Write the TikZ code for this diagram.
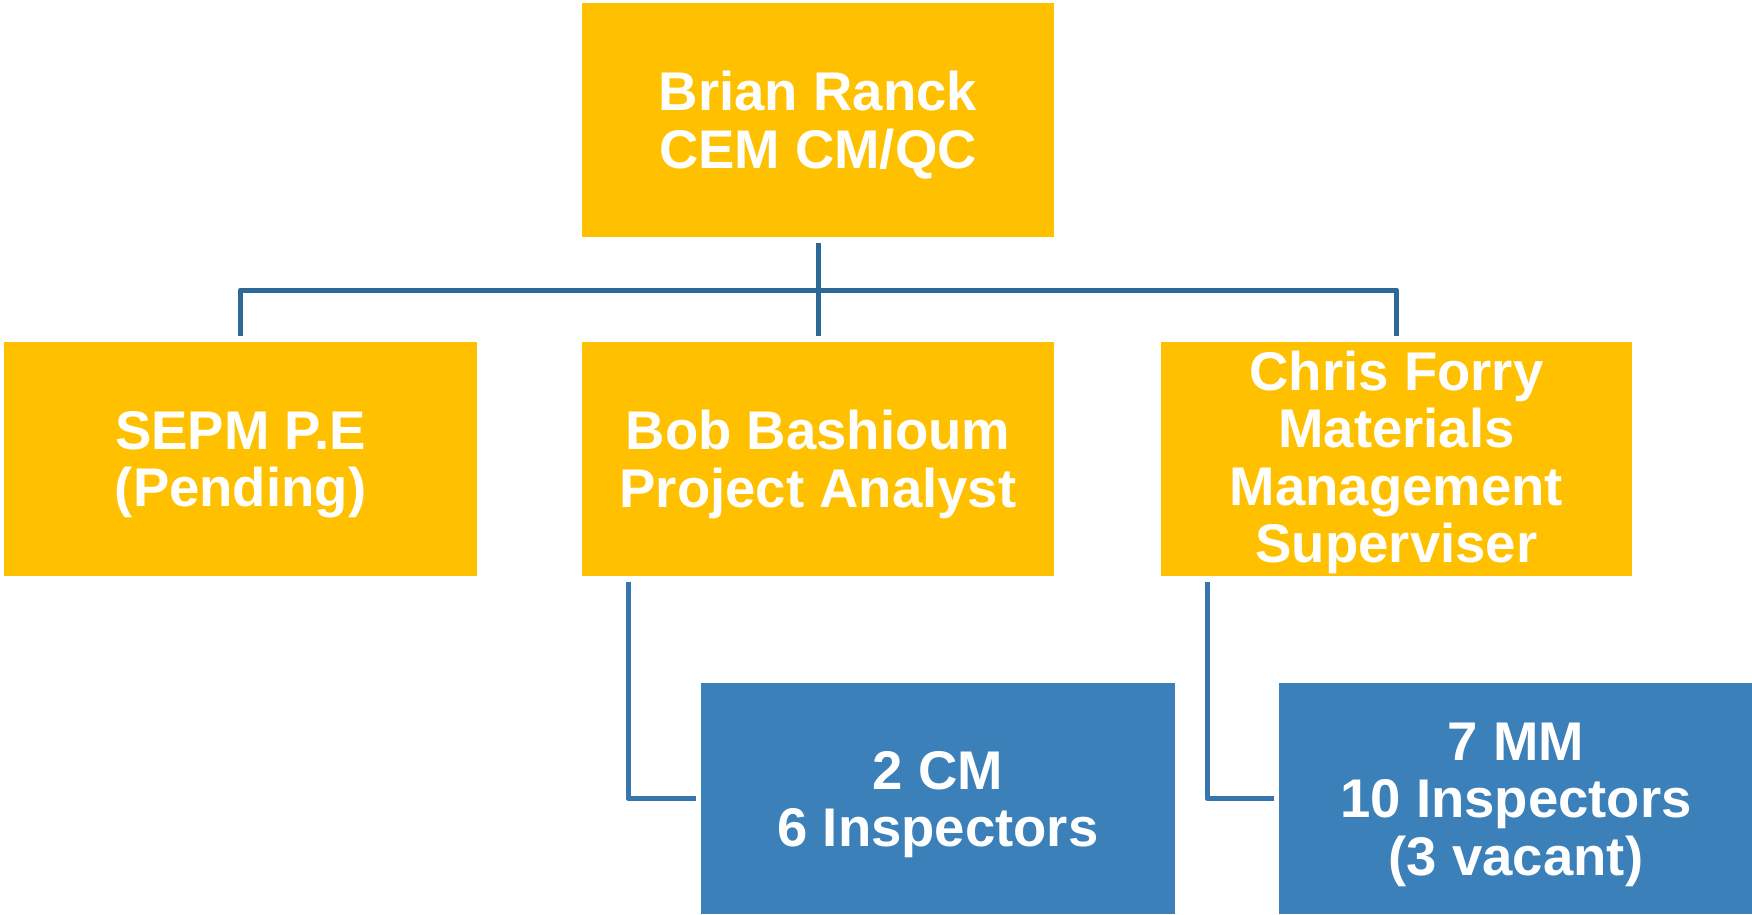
\documentclass[tikz,border=0pt]{standalone}
\usepackage{fontspec}
\setmainfont{Liberation Sans}
\definecolor{boxyellow}{HTML}{FFC000}
\definecolor{boxblue}{HTML}{3B80B9}
\definecolor{busblue}{HTML}{2E6896}
\definecolor{elbowblue}{HTML}{3875AD}
\newcommand{\toppad}{\rule{0pt}{25pt}}
\newcommand{\toppadsmall}{\rule{0pt}{23pt}}
\tikzset{
  orgbox/.style={rectangle, inner sep=0pt, outer sep=0pt, align=center, text=white,
    font=\fontsize{27.25pt}{28.7pt}\selectfont\bfseries},
  ybox/.style={orgbox, fill=boxyellow},
  bbox/.style={orgbox, fill=boxblue},
  busline/.style={draw=busblue, line width=2.5pt, line join=round},
  elbowline/.style={draw=elbowblue, line width=2.5pt, line join=round}
}
\begin{document}
\begin{tikzpicture}[x=0.5pt,y=-0.5pt]
\useasboundingbox (0,0) rectangle (1752,915);
% top
\node[ybox, minimum width=236pt, minimum height=117pt] (top) at (818,120) {\toppad Brian Ranck\\CEM CM/QC};
% second row
\node[ybox, minimum width=236.5pt, minimum height=117pt] (sepm) at (240.5,459) {\toppad SEPM P.E\\(Pending)};
\node[ybox, minimum width=236pt, minimum height=117pt] (bob) at (818,459) {\toppad Bob Bashioum\\Project Analyst};
\node[ybox, minimum width=235.5pt, minimum height=117pt] (chris) at (1396.5,459) {\toppadsmall Chris Forry\\Materials\\Management\\Superviser};
% third row
\node[bbox, minimum width=237pt, minimum height=115.5pt] (cm) at (938,798.5) {\toppad 2 CM\\6 Inspectors};
\node[bbox, minimum width=237pt, minimum height=115.5pt] (mm) at (1516,798.5) {\toppad 7 MM\\10 Inspectors\\(3 vacant)};
% bus connectors
\coordinate (bus) at (819,290);
\draw[busline] ([yshift=-3pt]top.south) -- ([yshift=3pt]bob.north);
\draw[busline] ([yshift=3pt]sepm.north) |- (bus) -| ([yshift=3pt]chris.north);
% elbow connectors
\draw[elbowline] ([shift={(23pt,-3pt)}]bob.south west) |- ([xshift=-2.5pt]cm.west);
\draw[elbowline] ([shift={(23pt,-3pt)}]chris.south west) |- ([xshift=-2.5pt]mm.west);
\end{tikzpicture}
\end{document}
